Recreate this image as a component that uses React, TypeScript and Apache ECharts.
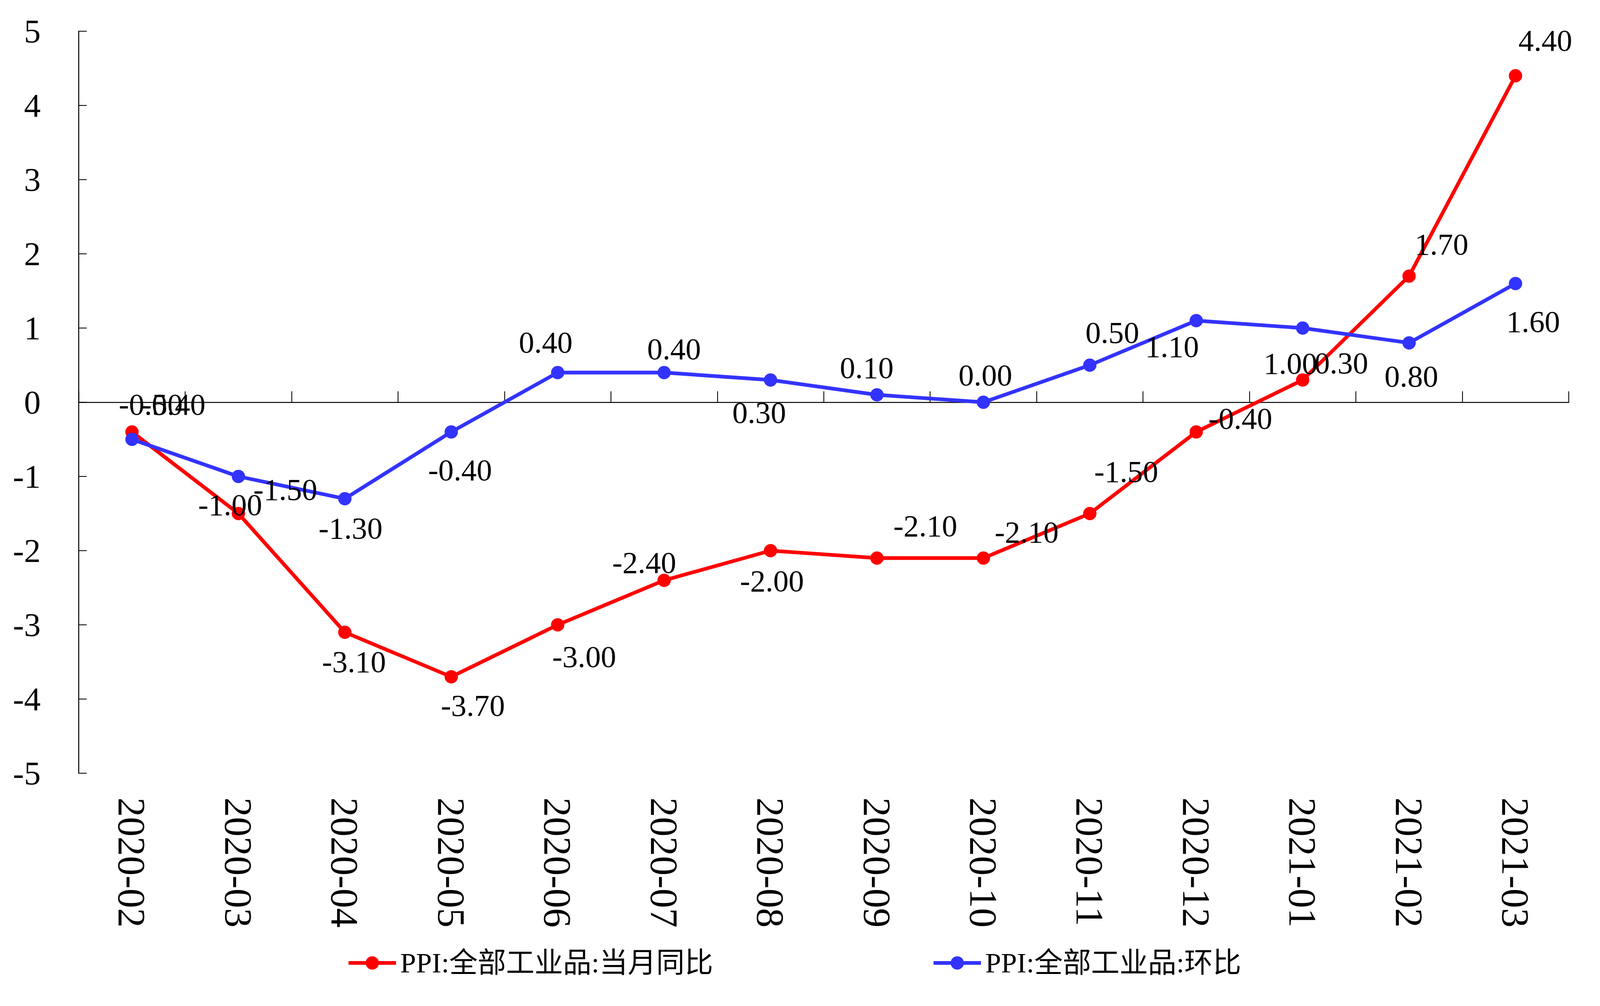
import React, { useEffect, useRef } from "react";
import * as echarts from "echarts";

const categories = [
  "2020-02", "2020-03", "2020-04", "2020-05", "2020-06", "2020-07", "2020-08",
  "2020-09", "2020-10", "2020-11", "2020-12", "2021-01", "2021-02", "2021-03",
];
const yoyName = "PPI:全部工业品:当月同比";
const momName = "PPI:全部工业品:环比";
const yoyValues = [-0.4, -1.5, -3.1, -3.7, -3.0, -2.4, -2.0, -2.1, -2.1, -1.5, -0.4, 0.3, 1.7, 4.4];
const momValues = [-0.5, -1.0, -1.3, -0.4, 0.4, 0.4, 0.3, 0.1, 0.0, 0.5, 1.1, 1.0, 0.8, 1.6];
const yMin = -5;
const yMax = 5;
const yInterval = 1;

// label offsets (reference px) from each point's centre
const yoyLabelOffsets = [
  [146, -71], [165, -62], [32, 75], [76, 73], [93, 81], [-70, -46], [5, 77],
  [170, -83], [152, -67], [128, -108], [155, -35], [136, -44], [114, -82], [105, -91],
];
const momLabelOffsets = [
  [66, -90], [-29, 72], [20, 75], [31, 97], [-42, -78], [35, -61], [-40, 83],
  [-36, -70], [7, -70], [79, -84], [-85, 66], [-43, 90], [8, 85], [62, 97],
];

const REF_W = 5626;
const REF_H = 2576;
const FONT = "'Liberation Serif', 'Times New Roman', 'Noto Sans CJK SC', serif";
const RED = "#FF0000";
const BLUE = "#3333FF";

export default function App() {
  const ref = useRef<HTMLDivElement>(null);
  useEffect(() => {
    const el = ref.current;
    if (!el) return;
    const chart = echarts.init(el, null, { renderer: "svg" });
    const W = el.clientWidth || REF_W;
    const H = el.clientHeight || REF_H;
    const sx = W / REF_W;
    const sy = H / REF_H;
    const sm = Math.sqrt(sx * sy);
    const X = (v: number) => v * sx;
    const Y = (v: number) => v * sy;
    const M = (v: number) => v * sm;

    const dataFont = 108 * sx;
    const xLabelFont = 100 * sy;
    const yLabelFont = 100 * sm;
    const legendFont = 100 * sx;
    const symbolSize = M(40);
    const lineW = M(11);
    const legendItemH = symbolSize / 0.8;

    const labelBase = {
      show: true,
      position: "inside",
      fontSize: dataFont,
      fontFamily: FONT,
      color: "#000",
      formatter: (p: any) => Number(p.value).toFixed(2),
    };
    const mk = (vals: number[], offs: number[][]) =>
      vals.map((v, i) => ({ value: v, label: { offset: [X(offs[i][0]), Y(offs[i][1])] } }));
    const legendBase = {
      top: Y(2473) - Math.max(legendItemH, legendFont * 1.2) / 2,
      itemWidth: X(167),
      itemHeight: legendItemH,
      itemGap: 0,
      padding: 0,
      lineStyle: { width: lineW },
      textStyle: { fontSize: legendFont, fontFamily: FONT, color: "#000", padding: [0, 0, 0, X(8)] },
    };
    chart.setOption({
      animation: false,
      backgroundColor: "#fff",
      grid: {
        left: X(277),
        right: X(110),
        top: Y(80),
        bottom: Y(596),
        containLabel: false,
        outerBoundsMode: "none",
      },
      legend: [
        { ...legendBase, left: X(1219), data: [yoyName] },
        { ...legendBase, left: X(3276), data: [momName] },
      ],
      xAxis: [
        {
          type: "category",
          data: categories,
          position: "bottom",
          axisLine: { show: false, onZero: false },
          axisTick: { show: false },
          axisLabel: {
            rotate: -90,
            margin: Y(62),
            fontSize: xLabelFont,
            fontFamily: FONT,
            color: "#000",
            interval: 0,
          },
        },
        {
          type: "category",
          data: categories,
          position: "bottom",
          axisLine: { show: true, onZero: true, lineStyle: { color: "#000", width: M(3) } },
          axisTick: {
            show: true,
            inside: true,
            length: Y(28),
            interval: 0,
            lineStyle: { color: "#000", width: M(2.5) },
          },
          axisLabel: { show: false },
          splitLine: { show: false },
        },
      ],
      yAxis: {
        type: "value",
        min: yMin,
        max: yMax,
        interval: yInterval,
        axisLine: { show: true, lineStyle: { color: "#000", width: M(3) } },
        axisTick: { show: true, inside: true, length: X(28), lineStyle: { color: "#000", width: M(2.5) } },
        splitLine: { show: false },
        axisLabel: { fontSize: yLabelFont, fontFamily: FONT, color: "#000", margin: X(134) },
      },
      series: [
        {
          name: yoyName,
          type: "line",
          xAxisIndex: 0,
          data: mk(yoyValues, yoyLabelOffsets),
          symbol: "circle",
          symbolSize,
          color: RED,
          itemStyle: { color: RED },
          lineStyle: { color: RED, width: lineW },
          label: labelBase,
        },
        {
          name: momName,
          type: "line",
          xAxisIndex: 0,
          data: mk(momValues, momLabelOffsets),
          symbol: "circle",
          symbolSize,
          color: BLUE,
          itemStyle: { color: BLUE },
          lineStyle: { color: BLUE, width: lineW },
          label: labelBase,
        },
      ],
    });
    return () => chart.dispose();
  }, []);
  return (
    <div
      ref={ref}
      style={{ position: "fixed", left: 0, top: 0, width: "100vw", height: "100vh", background: "#fff" }}
    />
  );
}
